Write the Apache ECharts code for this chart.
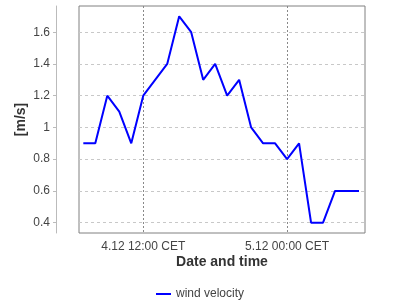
<!DOCTYPE html>
<html>
<head>
<meta charset="utf-8">
<script src="https://cdn.jsdelivr.net/npm/echarts@6/dist/echarts.min.js"></script>
<style>html,body{margin:0;padding:0;background:#fff}#c{width:400px;height:300px}</style>
</head>
<body>
<div id="c"></div>
<script>
// hours since 4.12 00:00 CET
var hours = [7, 8, 9, 10, 11, 12, 14, 15, 16, 17, 18, 19, 20, 21, 22, 23, 24, 25, 26, 27, 28, 29, 30];
var windVelocity = [0.9, 0.9, 1.2, 1.1, 0.9, 1.2, 1.4, 1.7, 1.6, 1.3, 1.4, 1.2, 1.3, 1.0, 0.9, 0.9, 0.8, 0.9, 0.4, 0.4, 0.6, 0.6, 0.6];
var xTickHours = [12, 24];
var xTickLabels = ['4.12 12:00 CET', '5.12 00:00 CET'];
var yTicks = [0.4, 0.6, 0.8, 1, 1.2, 1.4, 1.6];
var yTickLabels = ['0.4', '0.6', '0.8', '1', '1.2', '1.4', '1.6'];

var font = 'Liberation Sans, Arial, sans-serif';
var chart = echarts.init(document.getElementById('c'), null, {renderer: 'canvas'});
chart.setOption({
  animation: false,
  grid: {left: 79, right: 35, top: 6, bottom: 67, show: true, borderColor: '#808080', borderWidth: 1, backgroundColor: 'transparent'},
  legend: {
    top: 283, left: 'center', icon: 'rect', itemWidth: 15, itemHeight: 2, itemGap: 10,
    textStyle: {color: '#444', fontSize: 12, fontFamily: font},
    data: ['wind velocity']
  },
  xAxis: {
    type: 'value', min: 6.64, max: 30.5,
    name: 'Date and time', nameLocation: 'middle', nameGap: 22, nameMoveOverlap: false,
    nameTextStyle: {color: '#333', fontSize: 14, fontWeight: 'bold', fontFamily: font},
    axisLine: {show: false},
    axisTick: {show: false, customValues: xTickHours},
    axisLabel: {customValues: xTickHours, color: '#444', fontSize: 12, fontFamily: font, margin: 8,
      formatter: function (v) { var i = xTickHours.indexOf(v); return i >= 0 ? xTickLabels[i] : ''; }},
    splitLine: {show: true, lineStyle: {color: '#888', type: [2, 2], width: 1}}
  },
  yAxis: {
    type: 'value', min: 0.335, max: 1.765, offset: 23,
    name: '[m/s]', nameLocation: 'middle', nameGap: 28, nameRotate: 90, nameMoveOverlap: false,
    nameTextStyle: {color: '#333', fontSize: 14, fontWeight: 'bold', fontFamily: font},
    axisLine: {show: true, lineStyle: {color: '#bbb', width: 1}},
    axisTick: {show: true, length: 3, customValues: yTicks, lineStyle: {color: '#bbb'}},
    axisLabel: {customValues: yTicks, color: '#444', fontSize: 12, fontFamily: font, margin: 6,
      formatter: function (v) { var i = yTicks.indexOf(v); return i >= 0 ? yTickLabels[i] : ''; }},
    splitLine: {show: true, lineStyle: {color: '#c8c8c8', type: [3, 3], width: 1}}
  },
  series: [{
    name: 'wind velocity', type: 'line', showSymbol: false, symbol: 'none',
    data: hours.map(function (h, i) { return [h, windVelocity[i]]; }),
    lineStyle: {color: '#0000ff', width: 2}, itemStyle: {color: '#0000ff'}
  }]
});
</script>
</body>
</html>
